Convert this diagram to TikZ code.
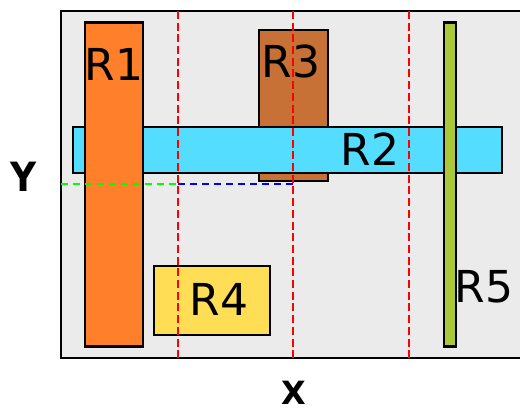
\documentclass[tikz,border=0pt]{standalone}
\usepackage{fontspec}
\setmainfont{DejaVu Sans}
\definecolor{panel}{HTML}{EBEBEB}
\definecolor{rorange}{HTML}{FF7F2A}
\definecolor{rcyan}{HTML}{55DDFF}
\definecolor{rbrown}{HTML}{C87137}
\definecolor{ryellow}{HTML}{FFDD55}
\definecolor{rgreen}{HTML}{AAC837}
\begin{document}
\begin{tikzpicture}[x=1pt,y=-1pt,
  block/.style={draw=black,line width=2.2pt,rectangle,inner sep=0pt,outer sep=0pt},
  tag/.style={font=\fontsize{44}{44}\selectfont,inner sep=0pt},
  axislabel/.style={font=\fontsize{36}{36}\selectfont\bfseries,inner sep=0pt},
  vguide/.style={line width=2pt,dash pattern=on 8pt off 3.7pt},
  hguide/.style={line width=2pt,dash pattern=on 7pt off 5pt}]
\useasboundingbox (0,0) rectangle (520,411);
% panel: open on the right
\fill[panel] (61,11) rectangle (524,358);
\coordinate (ptr) at (524,11);
\coordinate (ptl) at (61,11);
\coordinate (pbl) at (61,358);
\coordinate (pbr) at (524,358);
\draw[line width=2.2pt] (ptr) -- (ptl) -- (pbl) -- (pbr);
% rectangles
\node[block,fill=rbrown,minimum width=69pt,minimum height=151pt] (r3) at (293.5,105.5) {};
\node[block,fill=rcyan,minimum width=429pt,minimum height=46pt] (r2) at (287.5,150) {};
\node[block,fill=rorange,minimum width=58pt,minimum height=324pt] (r1) at (114,184.5) {};
\node[block,fill=rgreen,minimum width=11.5pt,minimum height=324pt] (r5) at (450,184.5) {};
\node[block,fill=ryellow,minimum width=116pt,minimum height=69pt] (r4) at (212,300.5) {};
% guide lines
\coordinate (a1) at (178,11);  \coordinate (b1) at (178,358);
\coordinate (a2) at (293,11);  \coordinate (b2) at (293,358);
\coordinate (a3) at (409,11);  \coordinate (b3) at (409,358);
\coordinate (h0) at (61,184);
\coordinate (h1) at (178,184);
\coordinate (h2) at (293,184);
\draw[hguide,green] (h0) -- (h1);
\draw[hguide,blue] (h1) -- (h2);
\draw[vguide,red] (a1) -- (b1);
\draw[vguide,red] (a2) -- (b2);
\draw[vguide,red] (a3) -- (b3);
% labels
\node[tag] (l1) at (114,64) {R1};
\node[tag] (l2) at (370,149) {R2};
\node[tag] (l3) at (291,61) {R3};
\node[tag] (l4) at (219,299) {R4};
\node[tag] (l5) at (484,287) {R5};
\node[axislabel,yscale=1.12] (ly) at (23.5,177) {Y};
\node[axislabel,font=\fontsize{32}{32}\selectfont\bfseries] (lx) at (293.5,393) {X};
\end{tikzpicture}
\end{document}
